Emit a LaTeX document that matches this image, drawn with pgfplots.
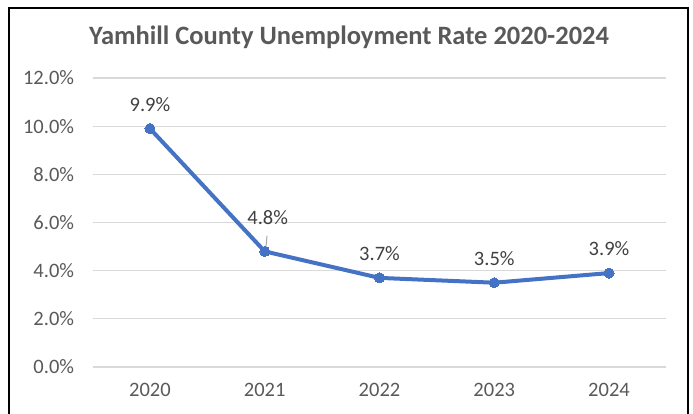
\documentclass[border=0pt]{standalone}
\usepackage{pgfplots}
\pgfplotsset{compat=1.18}
\usepackage{fontspec}
\setmainfont{Carlito}
\definecolor{linec}{HTML}{4472C4}
\definecolor{gridc}{HTML}{D9D9D9}
\definecolor{tickc}{HTML}{595959}
\definecolor{labc}{HTML}{404040}
\begin{document}
\begin{tikzpicture}[x=1pt,y=1pt]
\useasboundingbox (0,0) rectangle (693,413);
\draw[line width=2pt, black] (8.5,-2) -- (8.5,405) -- (688,405) -- (688,-2);
\node[font=\fontsize{26.5}{31}\selectfont\bfseries, text=tickc] at (349,375.5) {Yamhill County Unemployment Rate 2020-2024};
\begin{axis}[
  at={(92.6pt,46pt)}, anchor=south west,
  scale only axis, width=573.8pt, height=289pt,
  xmin=-0.5, xmax=4.5, ymin=0, ymax=12,
  xtick={0,1,2,3,4}, xticklabels={2020,2021,2022,2023,2024},
  ytick={0,2,4,6,8,10,12},
  yticklabel={\pgfmathprintnumber[fixed,fixed zerofill,precision=1]{\tick}\%},
  /pgf/number format/assume math mode=true,
  ymajorgrids, major grid style={color=gridc, line width=1.3pt},
  axis line style={draw=none}, tick style={draw=none},
  ticklabel style={font=\fontsize{20.5}{24}\selectfont, text=tickc},
  yticklabel style={xshift=-15pt},
  xticklabel style={yshift=-13pt},
  clip=false,
]
\addplot[color=linec, line width=4pt, mark=*, mark size=5pt, mark options={fill=linec, draw=linec, line width=0pt}]
  coordinates {(0,9.9) (1,4.8) (2,3.7) (3,3.5) (4,3.9)};
\addplot[only marks, draw=none, mark=none, point meta=explicit symbolic,
  nodes near coords, nodes near coords style={font=\fontsize{20.5}{24}\selectfont, text=labc, anchor=center, inner sep=0pt, yshift=24pt}]
  coordinates {(0,9.9) [9.9\%] (2,3.7) [3.7\%] (3,3.5) [3.5\%] (4,3.9) [3.9\%]};
\addplot[only marks, draw=none, mark=none, point meta=explicit symbolic,
  nodes near coords, nodes near coords style={font=\fontsize{20.5}{24}\selectfont, text=labc, anchor=center, inner sep=0pt, yshift=34pt, xshift=3pt}]
  coordinates {(1,4.8) [4.8\%]};
\draw[gray!70, line width=1pt] (axis cs:1.02,5.45) -- (axis cs:1.01,4.95);
\end{axis}
\end{tikzpicture}
\end{document}
